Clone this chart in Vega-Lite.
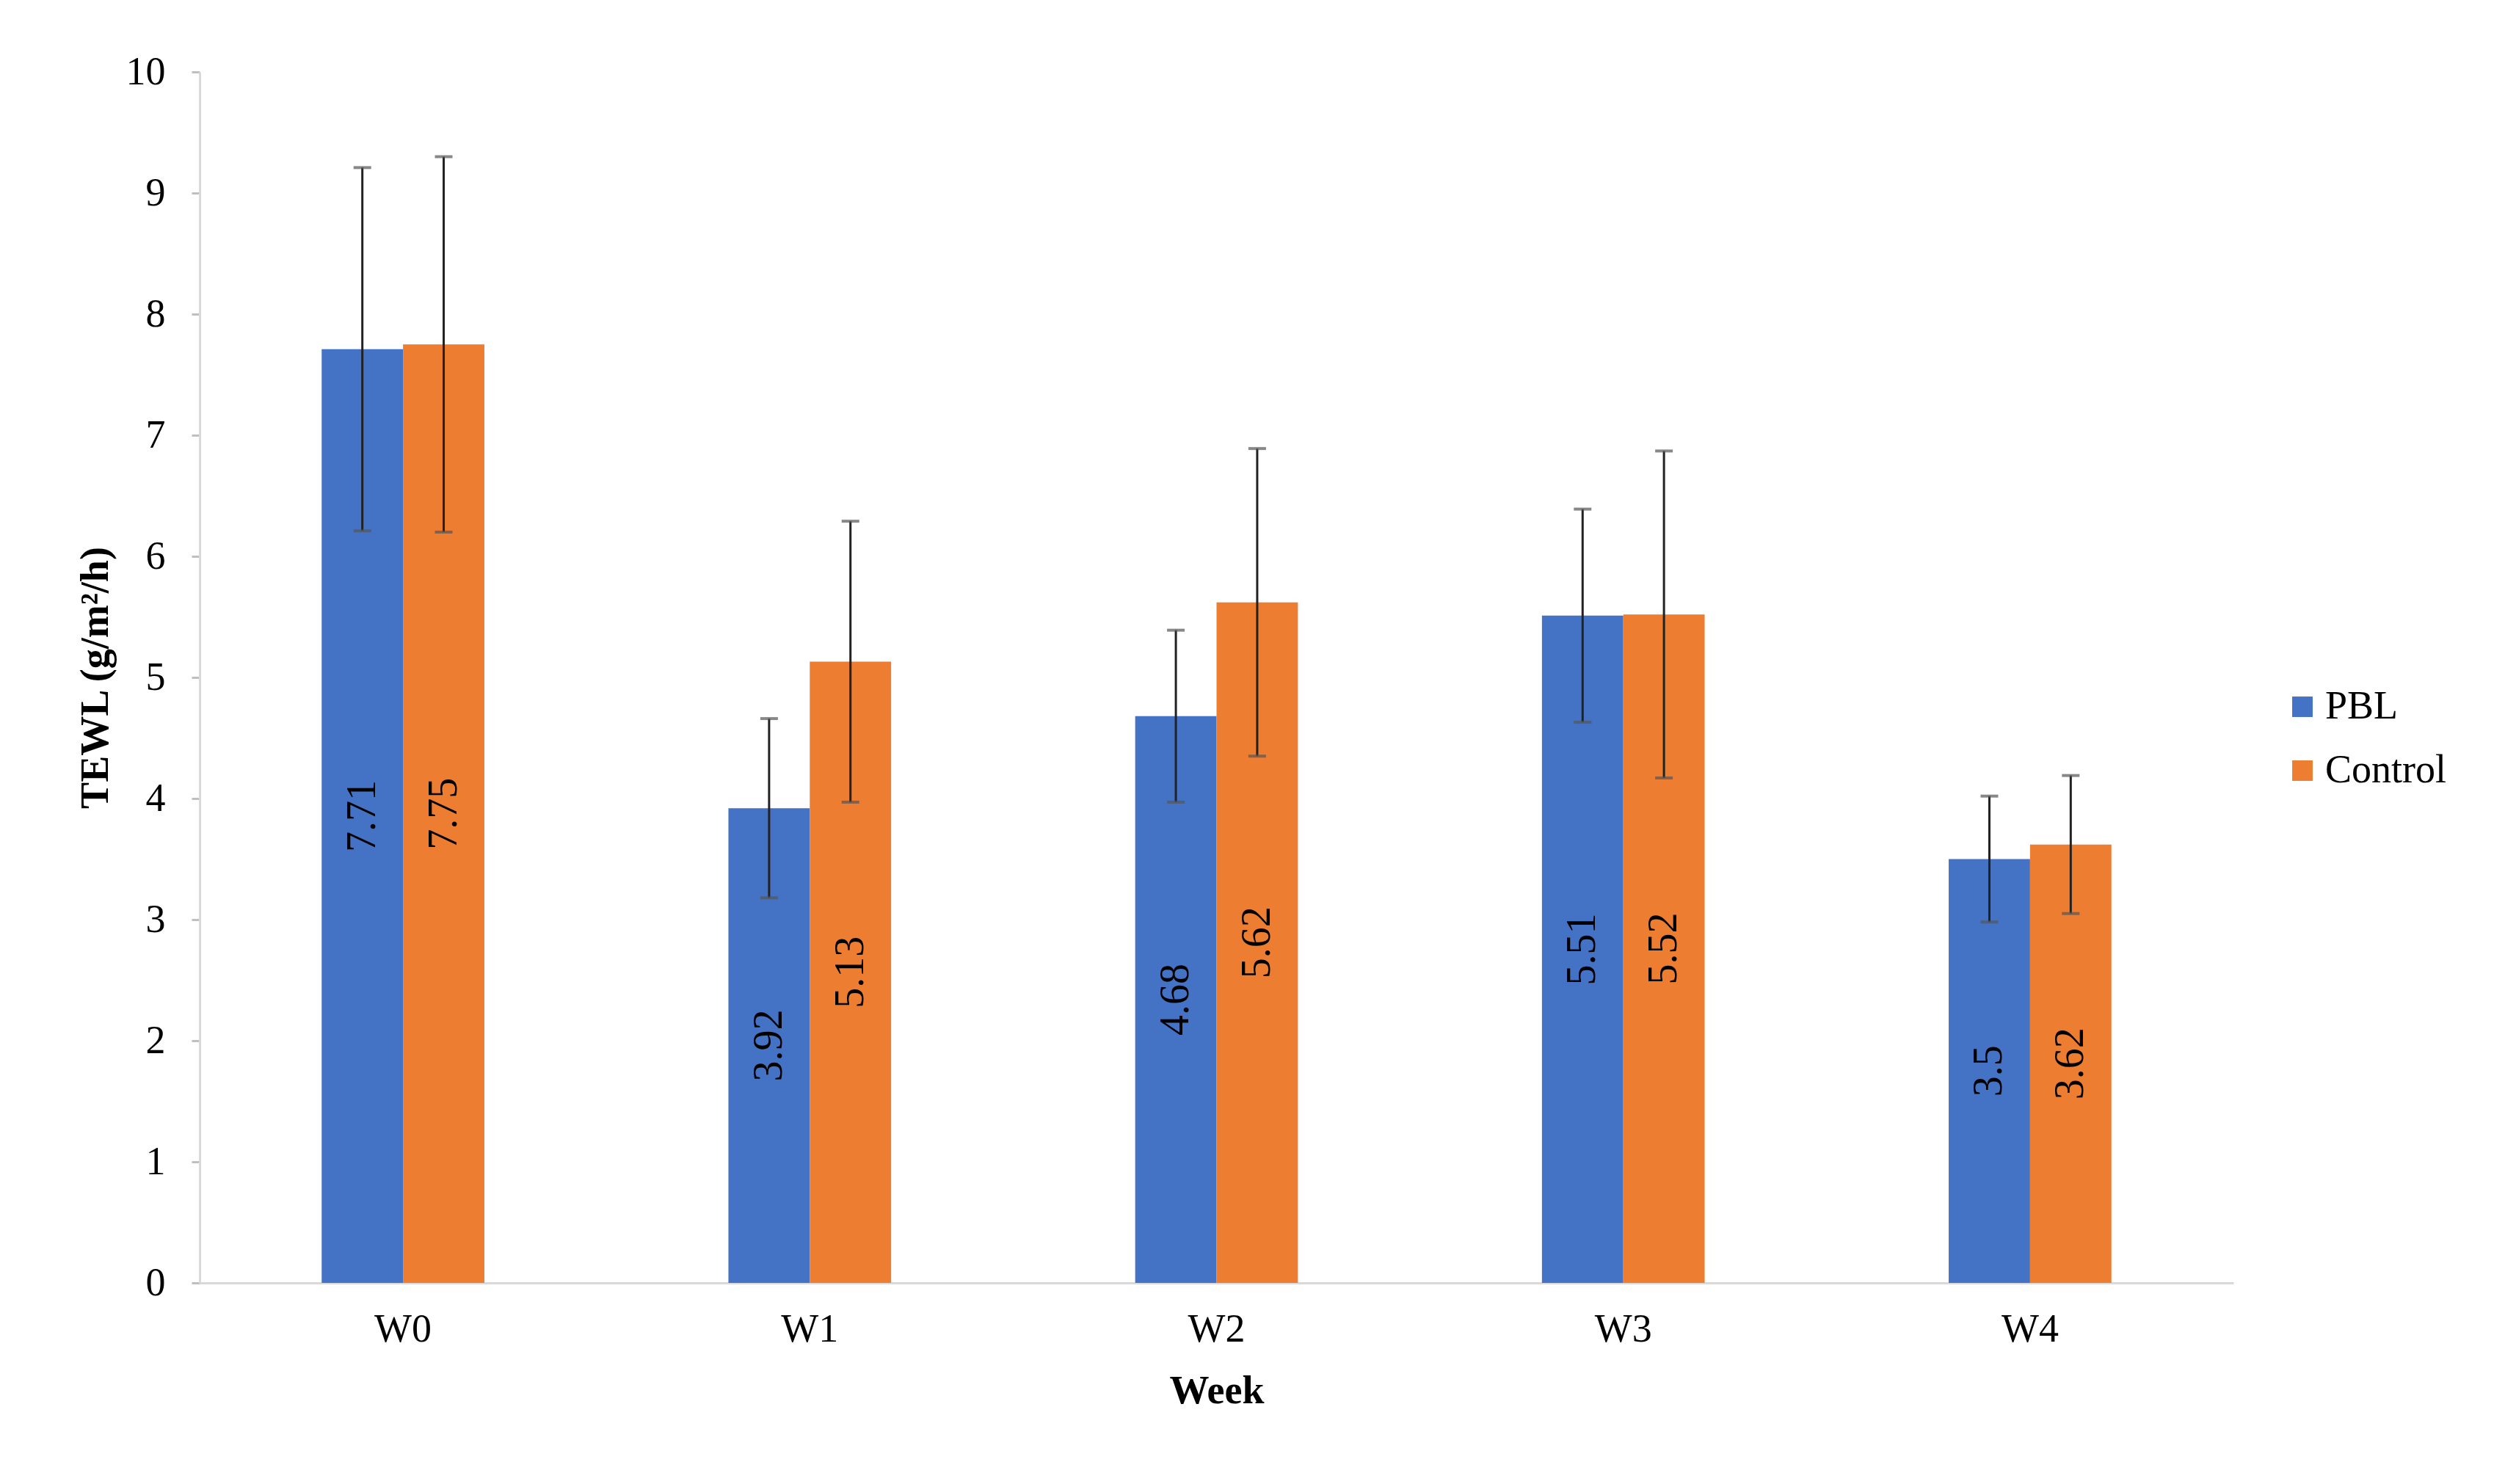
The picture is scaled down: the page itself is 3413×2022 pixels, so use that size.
{
  "$schema": "https://vega.github.io/schema/vega-lite/v6.json",
  "width": 2771,
  "height": 1650,
  "autosize": {"type": "none"},
  "padding": {"left": 272, "top": 98, "right": 370, "bottom": 274},
  "background": "white",
  "config": {"font": "Liberation Serif", "view": {"stroke": null}},
  "data": {"values": [
    {"week": "W0", "group": "PBL", "value": 7.71, "low": 6.21, "high": 9.21},
    {"week": "W0", "group": "Control", "value": 7.75, "low": 6.2, "high": 9.3},
    {"week": "W1", "group": "PBL", "value": 3.92, "low": 3.18, "high": 4.66},
    {"week": "W1", "group": "Control", "value": 5.13, "low": 3.97, "high": 6.29},
    {"week": "W2", "group": "PBL", "value": 4.68, "low": 3.97, "high": 5.39},
    {"week": "W2", "group": "Control", "value": 5.62, "low": 4.35, "high": 6.89},
    {"week": "W3", "group": "PBL", "value": 5.51, "low": 4.63, "high": 6.39},
    {"week": "W3", "group": "Control", "value": 5.52, "low": 4.17, "high": 6.87},
    {"week": "W4", "group": "PBL", "value": 3.5, "low": 2.98, "high": 4.02},
    {"week": "W4", "group": "Control", "value": 3.62, "low": 3.05, "high": 4.19}
  ]},
  "encoding": {
    "x": {
      "field": "week", "type": "nominal", "sort": ["W0", "W1", "W2", "W3", "W4"],
      "scale": {"paddingInner": 0.6, "paddingOuter": 0.3},
      "axis": {
        "title": "Week", "titleFontSize": 54, "titleFontWeight": "bold", "titleColor": "black", "titlePadding": 30,
        "labelFontSize": 54, "labelColor": "black", "labelAngle": 0, "labelPadding": 36,
        "ticks": false, "domainColor": "#D9D9D9", "domainWidth": 3
      }
    },
    "xOffset": {"field": "group", "type": "nominal", "sort": ["PBL", "Control"], "scale": {"paddingInner": 0, "paddingOuter": 0}}
  },
  "layer": [
    {
      "mark": {"type": "bar"},
      "encoding": {
        "y": {
          "field": "value", "type": "quantitative",
          "scale": {"domain": [0, 10], "nice": false},
          "axis": {
            "title": "TEWL (g/m²/h)", "titleFontSize": 54, "titleFontWeight": "bold", "titleColor": "black", "titlePadding": 14,
            "labelFontSize": 54, "labelColor": "black", "labelPadding": 36, "values": [0,1,2,3,4,5,6,7,8,9,10],
            "grid": false, "tickColor": "#BFBFBF", "tickSize": 11, "tickWidth": 3, "domainColor": "#D9D9D9", "domainWidth": 3
          }
        },
        "color": {
          "field": "group", "type": "nominal",
          "scale": {"domain": ["PBL", "Control"], "range": ["#4472C4", "#ED7D31"]},
          "legend": {
            "title": null, "orient": "none", "legendX": 2838, "legendY": 838,
            "symbolType": "square", "symbolSize": 780, "symbolStrokeWidth": 0,
            "labelFontSize": 54, "labelColor": "black", "labelOffset": 4, "labelLimit": 400, "rowPadding": 33
          }
        }
      }
    },
    {
      "mark": {"type": "rule", "color": "#222222", "strokeWidth": 3},
      "encoding": {
        "y": {"field": "low", "type": "quantitative", "scale": {"domain": [0, 10], "nice": false}, "axis": null},
        "y2": {"field": "high"}
      }
    },
    {
      "mark": {"type": "tick", "orient": "horizontal", "color": "#555555", "size": 24, "thickness": 4},
      "encoding": {
        "y": {"field": "low", "type": "quantitative", "scale": {"domain": [0, 10], "nice": false}, "axis": null}
      }
    },
    {
      "mark": {"type": "tick", "orient": "horizontal", "color": "#555555", "size": 24, "thickness": 4},
      "encoding": {
        "y": {"field": "high", "type": "quantitative", "scale": {"domain": [0, 10], "nice": false}, "axis": null}
      }
    },
    {
      "mark": {"type": "text", "angle": 270, "fontSize": 56, "color": "black", "align": "center", "baseline": "middle"},
      "encoding": {
        "y": {"field": "value", "type": "quantitative", "scale": {"domain": [0, 20], "nice": false}, "axis": null},
        "text": {"field": "value", "type": "quantitative"}
      }
    }
  ],
  "resolve": {"scale": {"y": "independent"}}
}
